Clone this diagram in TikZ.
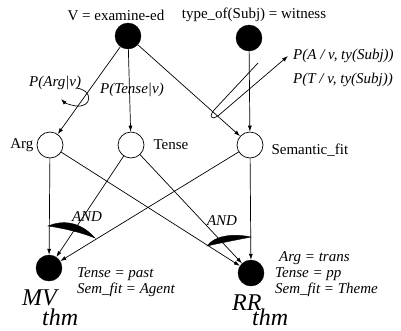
\documentclass[tikz,border=0pt]{standalone}
\usepackage{fontspec}
\setmainfont{Liberation Serif}
\usepackage{tikz}
\usetikzlibrary{arrows.meta, positioning}
\tikzset{%
  evidence/.style={%
    circle,%
    fill=black,%
    draw=black,%
    minimum size=26pt,%
    inner sep=0pt,%
  },
  hidden/.style={%
    circle,%
    fill=white,%
    draw=black,%
    line width=0.7pt,%
    minimum size=26pt,%
    inner sep=0pt,%
  },
  annotate/.style={%
    font={\fontsize{15}{16}\selectfont},%
    inner sep=0pt,%
  },
  prob_annotate/.style={%
    font={\fontsize{15}{16}\selectfont\itshape},%
    inner sep=0pt,%
    align=left,%
  },
  big_annotate/.style={%
    font={\fontsize{24}{26}\selectfont\itshape},%
    inner sep=0pt,%
    anchor=base west,%
  },
  signal/.style={%
    color=black,%
    line width=0.7pt,%
    line join=round,%
  },
  arrow/.style={-{Latex[length=6pt, width=4pt]}},
  and_arc/.style={%
    fill=black,%
    draw=black,%
    line width=0.4pt,%
  },
}

\begin{document}
\begin{tikzpicture}[x=1pt, y=-1pt]
    \useasboundingbox (0,0) rectangle (401,330);

    \node [evidence] (V) at (128,36) {};
    \node [evidence] (Subj) at (249,38) {};
    \node [hidden] (Arg) at (50,145) {};
    \node [hidden] (Tense) at (131,145) {};
    \node [hidden] (Sem) at (250,145) {};
    \node [evidence] (MV) at (49,268) {};
    \node [evidence] (RR) at (251,273) {};

    \node [annotate] (V_label) at (116,15) {V = examine-ed};
    \node [annotate] (Subj_label) at (254,15) {type\_of(Subj) = witness};
    \node [annotate, left = 3pt of Arg] (Arg_label) {Arg};
    \node [annotate, right = 9pt of Tense] (Tense_label) {Tense};
    \node [annotate, right = 8pt of Sem, yshift=-5pt] (Sem_label) {Semantic\_fit};

    \node [prob_annotate, anchor=west] (P_arg) at (29,83) {P(Arg|v)};
    \node [prob_annotate, anchor=west] (P_tense) at (100,90) {P(Tense|v)};
    \node [prob_annotate, anchor=west] (P_A) at (293,56) {P(A / v, ty(Subj))};
    \node [prob_annotate, anchor=west] (P_T) at (293,80) {P(T / v, ty(Subj))};

    \node [prob_annotate] (AND_MV) at (87,217) {AND};
    \node [prob_annotate] (AND_RR) at (222,221) {AND};

    \node [prob_annotate, anchor=west] (MV_cond) at (77,282)
      {Tense = past\\Sem\_fit = Agent};
    \node [prob_annotate, anchor=west] (RR_cond) at (275,274)
      {\hspace*{4pt}Arg = trans\\Tense = pp\\Sem\_fit = Theme};

    \node [big_annotate] (MV_label) at (22,305) {MV};
    \node [big_annotate] (MV_thm) at (42,325) {thm};
    \node [big_annotate] (RR_label) at (232,310) {RR};
    \node [big_annotate] (RR_thm) at (252,325) {thm};

    \draw [arrow, signal] (V) -- (Arg);
    \draw [arrow, signal] (V) -- (Tense);
    \draw [arrow, signal] (V) -- (Sem);
    \draw [arrow, signal] (Subj) -- (Sem);

    \draw [arrow, signal] (Arg) -- (MV);
    \draw [arrow, signal] (Arg) -- (RR);
    \draw [arrow, signal] (Tense) -- (MV);
    \draw [arrow, signal] (Tense) -- (RR);
    \draw [arrow, signal] (Sem) -- (MV);
    \draw [arrow, signal] (Sem) -- (RR);

    \draw [arrow, signal]
      (76,88)
      .. controls (94,90) and (92,108) ..
      (76,106)
      .. controls (70,105) and (65,103) ..
      (61,99);
    \draw [arrow, signal]
      (258,63)
      --
      (215,109)
      .. controls (209,115) and (210,122) ..
      (219,115)
      --
      (288,56);

    \draw [and_arc]
      (48,226)
      .. controls (62,220) and (80,221) ..
      (95,238)
      .. controls (80,232) and (62,228) ..
      cycle;
    \draw [and_arc]
      (207,246)
      .. controls (214,236) and (232,233) ..
      (251,237)
      .. controls (236,240) and (220,243) ..
      cycle;
\end{tikzpicture}
\end{document}
